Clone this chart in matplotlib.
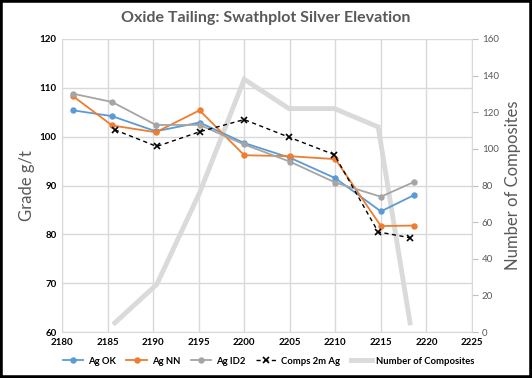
import matplotlib
matplotlib.use("Agg")
import matplotlib.pyplot as plt

plt.rcParams['font.family'] = ['Lato', 'DejaVu Sans']

# Data
ag_x = [2181.2, 2185.5, 2190.3, 2195.1, 2200.0, 2205.0, 2210.0, 2215.0, 2218.6]
ag_ok = [105.4, 104.2, 101.1, 102.9, 98.7, 95.7, 91.5, 84.7, 88.0]
ag_nn = [108.3, 102.3, 100.9, 105.4, 96.2, 96.0, 95.4, 81.7, 81.8]
ag_id2 = [108.8, 107.1, 102.4, 102.4, 98.4, 94.9, 90.6, 87.7, 90.7]

comp_x = [2185.8, 2190.4, 2195.1, 2200.0, 2204.9, 2209.9, 2214.7, 2218.2]
comps_ag = [101.4, 98.0, 101.0, 103.5, 99.9, 96.3, 80.5, 79.3]
n_comp = [5, 26, 76, 138, 122, 122, 112, 5]

x_ticks = [2180, 2185, 2190, 2195, 2200, 2205, 2210, 2215, 2220, 2225]
y_ticks = [60, 70, 80, 90, 100, 110, 120]
y2_ticks = [0, 20, 40, 60, 80, 100, 120, 140, 160]

fig = plt.figure(figsize=(5.32, 3.78), dpi=100)
ax = fig.add_axes([62/532, 1-332/378, (472-62)/532, (332-39)/378])
ax2 = ax.twinx()

grid_c = '#d9d9d9'
ax2.plot(comp_x, n_comp, color='#dadada', lw=3.5, solid_joinstyle='miter', zorder=1,
         label='Number of Composites')
ax.plot(ag_x, ag_ok, color='#5b9bd5', lw=1.3, marker='o', ms=3.6, label='Ag OK')
ax.plot(ag_x, ag_nn, color='#ed7d31', lw=1.3, marker='o', ms=3.6, label='Ag NN')
ax.plot(ag_x, ag_id2, color='#a5a5a5', lw=1.3, marker='o', ms=3.6, label='Ag ID2')
ax.plot(comp_x, comps_ag, color='black', lw=1.0, ls=(0, (3, 2.5)), marker='x', ms=4,
        mew=1.2, label='Comps 2m Ag')

ax.set_zorder(ax2.get_zorder() + 1)
ax.patch.set_visible(False)

ax.set_xlim(2180, 2225)
ax.set_ylim(60, 120)
ax2.set_ylim(0, 160)
ax.set_xticks(x_ticks)
ax.set_yticks(y_ticks)
ax2.set_yticks(y2_ticks)
ax.grid(True, color=grid_c, lw=1.0)
ax.set_axisbelow(True)

for a in (ax, ax2):
    for s in a.spines.values():
        s.set_visible(False)
ax.spines['bottom'].set_visible(True)
ax.spines['bottom'].set_color(grid_c)
ax.spines['left'].set_visible(True)
ax.spines['left'].set_color(grid_c)
ax2.spines['right'].set_visible(True)
ax2.spines['right'].set_color(grid_c)

ax.tick_params(axis='both', length=0, labelsize=7, pad=4)
for lab in ax.get_xticklabels() + ax.get_yticklabels():
    lab.set_fontweight('bold')
ax2.tick_params(axis='y', length=4, color='#bfbfbf', labelsize=7, labelcolor='#595959', pad=3)

ax.set_ylabel('Grade g/t', fontsize=12, color='#595959', labelpad=3)
ax2.set_ylabel('Number of Composites', fontsize=12, color='#595959', labelpad=4.5)

fig.suptitle('Oxide Tailing: Swathplot Silver Elevation', fontsize=11.5, fontweight='bold',
             color='#595959', y=0.97)

h1, l1 = ax.get_legend_handles_labels()
h2, l2 = ax2.get_legend_handles_labels()
leg = fig.legend(h1 + h2, l1 + l2, loc='center', bbox_to_anchor=(0.505, 1-361/378), ncol=5,
                 frameon=False, prop={'size': 6.8, 'weight': 'bold'}, handlelength=2.2,
                 columnspacing=1.1, handletextpad=0.5)

# black border
fig.patches.append(plt.Rectangle((0, 0), 1, 1, transform=fig.transFigure, fill=False,
                                 edgecolor='black', lw=4, zorder=10))

fig.savefig('out.png', dpi=100)
